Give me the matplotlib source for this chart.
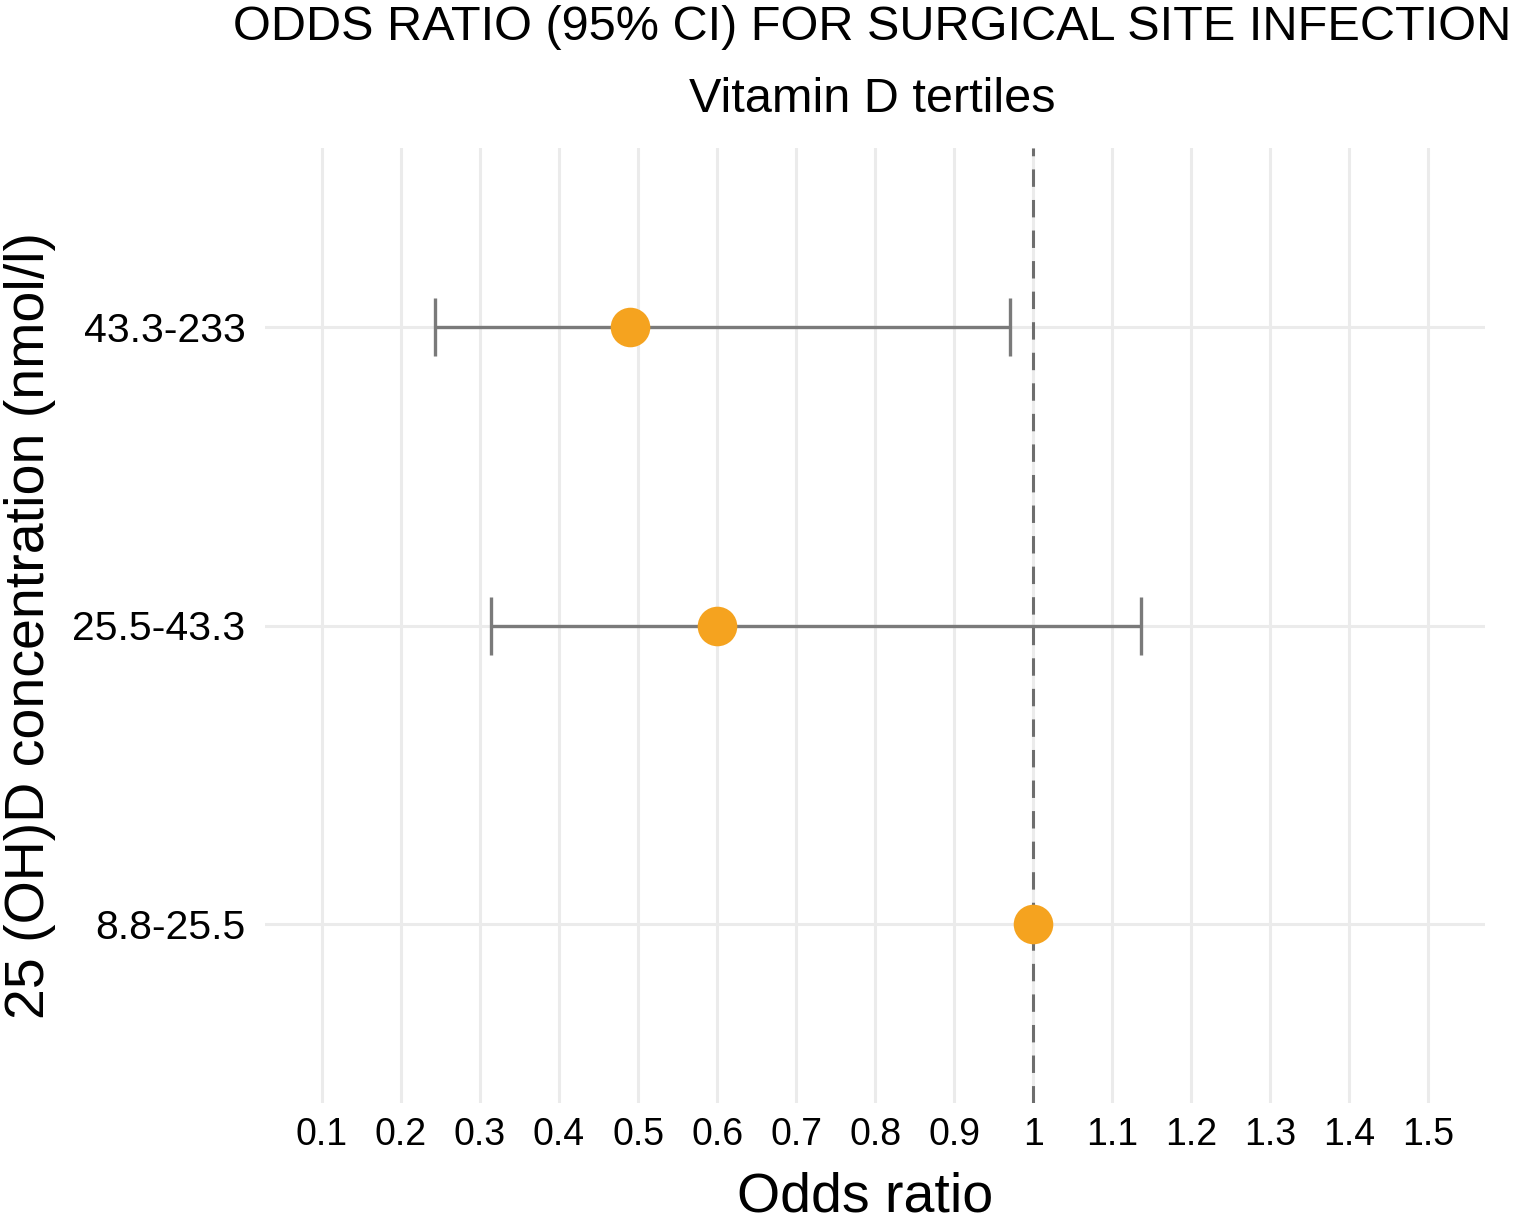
import matplotlib
matplotlib.use("Agg")
import matplotlib.pyplot as plt

plt.rcParams['font.family'] = ['Liberation Sans', 'DejaVu Sans']

# Data
groups = ['8.8-25.5', '25.5-43.3', '43.3-233']
odds = [1.0, 0.60, 0.49]
ci_low = [1.0, 0.314, 0.243]
ci_high = [1.0, 1.137, 0.971]
xticks = [0.1, 0.2, 0.3, 0.4, 0.5, 0.6, 0.7, 0.8, 0.9, 1.0, 1.1, 1.2, 1.3, 1.4, 1.5]
xticklabels = ['0.1', '0.2', '0.3', '0.4', '0.5', '0.6', '0.7', '0.8', '0.9', '1',
               '1.1', '1.2', '1.3', '1.4', '1.5']

fig = plt.figure(figsize=(15.26, 12.30), dpi=100)
ax = fig.add_axes([265/1526, 1 - 1103/1230, 1220/1526, 955/1230])

ypos = list(range(1, len(groups) + 1))

# grid
for x in xticks:
    ax.axvline(x, color='#ebebeb', lw=2.2, zorder=0)
for y in ypos:
    ax.axhline(y, color='#ebebeb', lw=2.2, zorder=0)

# reference line
ax.axvline(1.0, color='#6e6e6e', lw=2.2, ls=(0, (5.7, 4.3)), zorder=1)

# error bars (only where CI exists)
for y, o, lo, hi in zip(ypos, odds, ci_low, ci_high):
    if hi > lo:
        ax.errorbar(o, y, xerr=[[o - lo], [hi - o]], fmt='none', ecolor='#7a7a7a',
                    elinewidth=2.4, capsize=21, capthick=2.4, zorder=2)

ax.plot(odds, ypos, 'o', color='#f5a31f', markersize=28.5, markeredgewidth=0, zorder=3)

ax.set_xlim(0.0278, 1.572)
ax.set_ylim(0.4, 3.6)
ax.set_xticks(xticks)
ax.set_xticklabels(xticklabels, fontsize=27)
ax.set_yticks(ypos)
ax.set_yticklabels(groups, fontsize=29.5)
ax.tick_params(axis='x', length=0, pad=10)
ax.tick_params(axis='y', length=0, pad=14)
for s in ax.spines.values():
    s.set_visible(False)

ax.set_xlabel('Odds ratio', fontsize=40)
ax.xaxis.set_label_coords((865 - 265) / 1220, (1103 - 1197) / 955)
ax.xaxis.label.set_va('center')
ax.set_ylabel('25 (OH)D concentration (nmol/l)', fontsize=40)
ax.yaxis.set_label_coords((30 - 265) / 1220, 0.5)
ax.yaxis.label.set_va('center')

fig.text(872/1526, 1 - 27/1230, 'ODDS RATIO (95% CI) FOR SURGICAL SITE INFECTION',
         fontsize=35, ha='center', va='center')
fig.text(872/1526, 1 - 100/1230, 'Vitamin D tertiles', fontsize=35, ha='center', va='center')

fig.savefig('out.png', dpi=100)
